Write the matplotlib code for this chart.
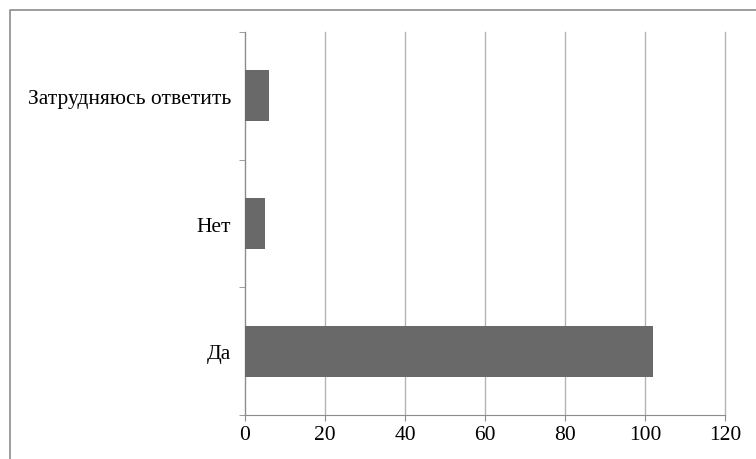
import numpy as np
import matplotlib.pyplot as plt
from matplotlib.lines import Line2D

# Ответы на вопрос анкеты
categories = ['Да', 'Нет', 'Затрудняюсь ответить']
counts = [102, 5, 6]
x_ticks = [0, 20, 40, 60, 80, 100, 120]

plt.rcParams['font.family'] = ['Liberation Serif', 'DejaVu Serif']

fig = plt.figure(figsize=(7.56, 4.6), dpi=100)
ax = fig.add_axes([245 / 756, 1 - 416 / 460, 480 / 756, 383 / 460])

y = np.arange(len(categories))
ax.barh(y, counts, height=0.4, color='#696969', zorder=3)

ax.set_xlim(0, 120)
ax.set_ylim(-0.5, len(categories) - 0.5)
ax.set_xticks(x_ticks)
ax.set_xticklabels([str(v) for v in x_ticks])
ax.set_yticks(y)
ax.set_yticklabels(categories)
ax.set_yticks(np.arange(-0.5, len(categories)), minor=True)

ax.grid(axis='x', color='#b4b4b4', linewidth=1, zorder=0)
for gl in ax.get_xgridlines():
    gl.set_clip_on(False)
for side in ('top', 'right'):
    ax.spines[side].set_visible(False)
for side in ('left', 'bottom'):
    ax.spines[side].set_color('#8c8c8c')

ax.tick_params(axis='y', which='major', length=0, pad=10, labelsize=15.5)
ax.tick_params(axis='y', which='minor', length=4.5, color='#8c8c8c')
ax.tick_params(axis='x', length=4, color='#8c8c8c', pad=3, labelsize=15.5)

# рамка вокруг области диаграммы
fx = 10 / 756
fy = 1 - 11 / 460
fig.add_artist(Line2D([fx, fx, 1], [0, fy, fy], color='#8c8c8c',
                      linewidth=1.2, transform=fig.transFigure))

fig.savefig('out.png', dpi=100)
